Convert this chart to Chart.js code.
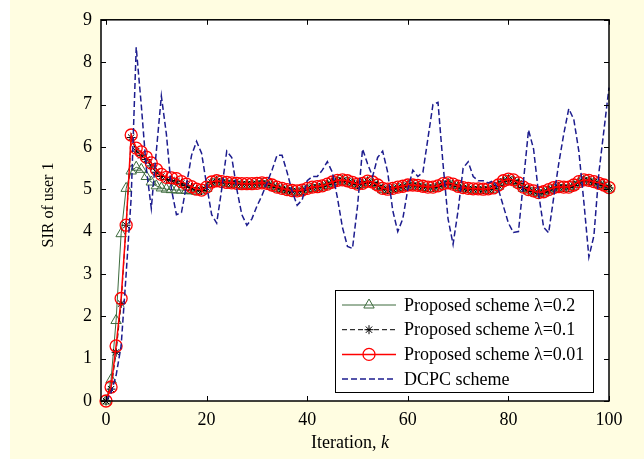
<!DOCTYPE html>
<html>
<head>
<meta charset="utf-8">
<script src="https://cdn.jsdelivr.net/npm/chart.js@4.4.0/dist/chart.umd.min.js"></script>
<style>
    html, body { margin: 0; padding: 0; background: #ffffff; }
    canvas { display: block; }
</style>
</head>
<body>
<canvas id="sirChart" width="644" height="459"></canvas>
<script>
/* SIR of user 1 vs iteration k -- four power control schemes */

// iteration index k = 0..100
const iterations = Array.from({ length: 101 }, (_, k) => k);

const xTicks = [0, 20, 40, 60, 80, 100];
const yTicks = [0, 1, 2, 3, 4, 5, 6, 7, 8, 9];

const seriesLabels = [
    'Proposed scheme λ=0.2',
    'Proposed scheme λ=0.1',
    'Proposed scheme λ=0.01',
    'DCPC scheme'
];

// lambda = 0.2 (green triangles)
const sirLambda02 = [
    0, 0.5, 1.9, 3.95, 5.02, 5.43, 5.52, 5.47, 5.3, 5.17,
    5.08, 5.03, 5.0, 4.99, 4.98, 4.98, 4.97, 4.96, 4.95, 4.96,
    5.02, 5.14, 5.17, 5.15, 5.13, 5.12, 5.11, 5.1, 5.1, 5.1,
    5.11, 5.12, 5.11, 5.07, 5.02, 4.99, 4.96, 4.94, 4.93, 4.95,
    4.99, 5.02, 5.03, 5.05, 5.09, 5.14, 5.18, 5.19, 5.17, 5.13,
    5.09, 5.11, 5.16, 5.14, 5.07, 4.99, 4.97, 4.99, 5.02, 5.04,
    5.07, 5.07, 5.06, 5.04, 5.02, 5.02, 5.05, 5.1, 5.12, 5.09,
    5.04, 5.01, 4.99, 4.98, 4.98, 4.97, 4.98, 5.0, 5.07, 5.17,
    5.21, 5.19, 5.12, 5.02, 4.96, 4.93, 4.89, 4.91, 4.96, 5.01,
    5.03, 5.02, 5.02, 5.07, 5.15, 5.19, 5.18, 5.15, 5.11, 5.07,
    5.01
];

// lambda = 0.1 (black stars)
const sirLambda01 = [
    0, 0.28, 1.15, 2.3, 4.15, 6.22, 5.9, 5.8, 5.7, 5.55,
    5.4, 5.3, 5.23, 5.21, 5.19, 5.14, 5.09, 5.04, 4.99, 4.97,
    5.04, 5.16, 5.19, 5.17, 5.15, 5.14, 5.13, 5.12, 5.12, 5.12,
    5.13, 5.14, 5.13, 5.09, 5.04, 5.01, 4.98, 4.96, 4.95, 4.97,
    5.01, 5.04, 5.05, 5.07, 5.11, 5.16, 5.2, 5.21, 5.19, 5.15,
    5.11, 5.13, 5.18, 5.16, 5.09, 5.01, 4.99, 5.01, 5.04, 5.06,
    5.09, 5.09, 5.08, 5.06, 5.04, 5.04, 5.07, 5.12, 5.14, 5.11,
    5.06, 5.03, 5.01, 5.0, 5.0, 4.99, 5.0, 5.02, 5.09, 5.19,
    5.23, 5.21, 5.14, 5.04, 4.98, 4.95, 4.91, 4.93, 4.98, 5.03,
    5.05, 5.04, 5.04, 5.09, 5.17, 5.21, 5.2, 5.17, 5.13, 5.09,
    5.03
];

// lambda = 0.01 (red circles)
const sirLambda001 = [
    0, 0.33, 1.3, 2.42, 4.15, 6.28, 5.97, 5.88, 5.76, 5.62,
    5.47, 5.35, 5.28, 5.27, 5.25, 5.18, 5.12, 5.06, 5.0, 4.98,
    5.05, 5.17, 5.2, 5.18, 5.16, 5.15, 5.14, 5.13, 5.13, 5.13,
    5.14, 5.15, 5.14, 5.1, 5.05, 5.02, 4.99, 4.97, 4.96, 4.98,
    5.02, 5.05, 5.06, 5.08, 5.12, 5.17, 5.21, 5.22, 5.2, 5.16,
    5.12, 5.14, 5.19, 5.17, 5.1, 5.02, 5.0, 5.02, 5.05, 5.07,
    5.1, 5.1, 5.09, 5.07, 5.05, 5.05, 5.08, 5.13, 5.15, 5.12,
    5.07, 5.04, 5.02, 5.01, 5.01, 5.0, 5.01, 5.03, 5.1, 5.2,
    5.24, 5.22, 5.15, 5.05, 4.99, 4.96, 4.92, 4.94, 4.99, 5.04,
    5.06, 5.05, 5.05, 5.1, 5.18, 5.22, 5.21, 5.18, 5.14, 5.1,
    5.04
];

// DCPC (blue dashed)
const sirDcpc = [
    0, 0.2, 0.6, 1.3, 3.0, 4.8, 8.35, 7.0, 5.5, 4.55,
    5.9, 7.2, 6.3, 5.0, 4.4, 4.45, 5.1, 5.8, 6.13, 5.85,
    5.1, 4.4, 4.2, 5.0, 5.9, 5.75, 5.0, 4.4, 4.15, 4.3,
    4.6, 4.85, 5.15, 5.45, 5.8, 5.8, 5.4, 4.95, 4.62, 4.75,
    5.2, 5.3, 5.3, 5.45, 5.65, 5.4, 4.8, 4.1, 3.65, 3.6,
    4.6, 5.95, 5.6, 5.3, 5.75, 5.9, 5.4, 4.5, 4.0, 4.3,
    5.0, 5.45, 5.3, 5.4, 6.2, 7.0, 7.05, 5.6, 4.3, 3.7,
    4.5, 5.5, 5.65, 5.3, 5.2, 5.2, 5.15, 5.2, 5.0, 4.6,
    4.2, 3.98, 4.0, 5.2, 6.4, 5.95, 4.9, 4.1, 3.97, 4.8,
    5.6, 6.3, 6.9, 6.65, 5.9, 4.7, 3.4, 3.9, 5.4, 6.4,
    7.4
];

const FONT = '"Liberation Serif", "Times New Roman", serif';
const toPoints = (vals) => vals.map((v, i) => ({ x: iterations[i], y: v }));

// Background, box, inward ticks, legend and axis titles (MATLAB look)
const matlabFrame = {
    id: 'matlabFrame',
    beforeDraw(chart) {
        const { ctx, chartArea: a } = chart;
        ctx.save();
        ctx.fillStyle = '#ffffff';
        ctx.fillRect(0, 0, chart.width, chart.height);
        ctx.fillStyle = '#fffde1';
        ctx.fillRect(10, 0, chart.width - 10, chart.height);
        ctx.fillStyle = '#ffffff';
        ctx.fillRect(a.left, a.top, a.right - a.left, a.bottom - a.top);
        ctx.restore();
    },
    afterDatasetsDraw(chart) {
        const { ctx, chartArea: a, scales } = chart;
        ctx.save();
        ctx.strokeStyle = '#000';
        ctx.lineWidth = 1.5;
        ctx.setLineDash([]);
        ctx.strokeRect(a.left, a.top, a.right - a.left, a.bottom - a.top);

        // inward tick marks on all four sides
        ctx.lineWidth = 1;
        ctx.beginPath();
        xTicks.forEach(v => {
            const x = Math.round(scales.x.getPixelForValue(v)) + 0.5;
            ctx.moveTo(x, a.bottom); ctx.lineTo(x, a.bottom - 5);
            ctx.moveTo(x, a.top); ctx.lineTo(x, a.top + 5);
        });
        yTicks.forEach(v => {
            const y = Math.round(scales.y.getPixelForValue(v)) + 0.5;
            ctx.moveTo(a.left, y); ctx.lineTo(a.left + 5, y);
            ctx.moveTo(a.right, y); ctx.lineTo(a.right - 5, y);
        });
        ctx.stroke();

        // legend box
        const box = { left: 335, top: 290, width: 258, height: 102 };
        ctx.fillStyle = '#ffffff';
        ctx.fillRect(box.left, box.top, box.width, box.height);
        ctx.strokeStyle = '#000';
        ctx.lineWidth = 1;
        ctx.strokeRect(box.left + 0.5, box.top + 0.5, box.width, box.height);

        ctx.font = '18px ' + FONT;
        ctx.textBaseline = 'middle';
        ctx.textAlign = 'left';
        chart.data.datasets.forEach((ds, i) => {
            const y = box.top + 15 + i * 24.7;
            ctx.save();
            ctx.strokeStyle = ds.borderColor;
            ctx.lineWidth = ds.borderWidth;
            ctx.setLineDash(ds.borderDash || []);
            ctx.beginPath();
            ctx.moveTo(box.left + 7, y);
            ctx.lineTo(box.left + 61, y);
            ctx.stroke();
            ctx.setLineDash([]);
            if (ds.pointRadius > 0) {
                ctx.strokeStyle = ds.pointBorderColor;
                ctx.fillStyle = 'rgba(0,0,0,0)';
                ctx.lineWidth = ds.pointBorderWidth;
                Chart.helpers.drawPoint(ctx, {
                    pointStyle: ds.pointStyle,
                    radius: ds.pointRadius,
                    rotation: 0,
                    borderWidth: ds.pointBorderWidth
                }, box.left + 34, y);
            }
            ctx.restore();
            ctx.fillStyle = '#000';
            ctx.fillText(ds.label, box.left + 69, y + 1);
        });

        // axis titles
        ctx.fillStyle = '#000';
        ctx.save();
        ctx.translate(49, 205);
        ctx.rotate(-Math.PI / 2);
        ctx.textAlign = 'center';
        ctx.textBaseline = 'middle';
        ctx.font = '16px ' + FONT;
        ctx.fillText('SIR of user 1', 0, 0);
        ctx.restore();

        const part1 = 'Iteration, ';
        const part2 = 'k';
        ctx.font = '18px ' + FONT;
        const w1 = ctx.measureText(part1).width;
        ctx.font = 'italic 18px ' + FONT;
        const w2 = ctx.measureText(part2).width;
        const startX = 350 - (w1 + w2) / 2;
        ctx.textAlign = 'left';
        ctx.textBaseline = 'middle';
        ctx.font = '18px ' + FONT;
        ctx.fillText(part1, startX, 443);
        ctx.font = 'italic 18px ' + FONT;
        ctx.fillText(part2, startX + w1, 443);
        ctx.restore();
    }
};

const ctx = document.getElementById('sirChart');

new Chart(ctx, {
    type: 'line',
    data: {
        datasets: [
            {
                label: seriesLabels[0],
                data: toPoints(sirLambda02),
                borderColor: '#3d6b3d',
                borderWidth: 1,
                pointStyle: 'triangle',
                pointRadius: 6,
                pointBorderColor: '#3d6b3d',
                pointBorderWidth: 1,
                pointBackgroundColor: 'rgba(0,0,0,0)',
                order: 4
            },
            {
                label: seriesLabels[1],
                data: toPoints(sirLambda01),
                borderColor: '#000000',
                borderWidth: 1,
                borderDash: [5, 3],
                pointStyle: 'star',
                pointRadius: 4.5,
                pointBorderColor: '#000000',
                pointBorderWidth: 1,
                pointBackgroundColor: 'rgba(0,0,0,0)',
                order: 3
            },
            {
                label: seriesLabels[2],
                data: toPoints(sirLambda001),
                borderColor: '#ff0000',
                borderWidth: 1.5,
                pointStyle: 'circle',
                pointRadius: 6,
                pointBorderColor: '#ff0000',
                pointBorderWidth: 1.3,
                pointBackgroundColor: 'rgba(0,0,0,0)',
                order: 2
            },
            {
                label: seriesLabels[3],
                data: toPoints(sirDcpc),
                borderColor: '#1c1c8e',
                borderWidth: 1.5,
                borderDash: [6, 3],
                pointRadius: 0,
                pointBorderWidth: 0,
                order: 1
            }
        ]
    },
    options: {
        responsive: false,
        animation: false,
        events: [],
        layout: { padding: { left: 0, top: 18, right: 35, bottom: 0 } },
        elements: { line: { tension: 0 } },
        datasets: { line: { clip: false } },
        scales: {
            x: {
                type: 'linear',
                min: -1,
                max: 100,
                afterFit: s => { s.height = 58; },
                afterBuildTicks: s => { s.ticks = xTicks.map(v => ({ value: v })); },
                grid: { display: false, drawTicks: false },
                border: { display: false },
                ticks: {
                    color: '#000',
                    padding: 8,
                    maxRotation: 0,
                    font: { family: FONT, size: 18 }
                }
            },
            y: {
                type: 'linear',
                min: 0,
                max: 9,
                afterFit: s => { s.width = 101; },
                afterBuildTicks: s => { s.ticks = yTicks.map(v => ({ value: v })); },
                grid: { display: false, drawTicks: false },
                border: { display: false },
                ticks: {
                    color: '#000',
                    padding: 9,
                    font: { family: FONT, size: 18 }
                }
            }
        },
        plugins: {
            legend: { display: false },
            tooltip: { enabled: false }
        }
    },
    plugins: [matlabFrame]
});
</script>
</body>
</html>
